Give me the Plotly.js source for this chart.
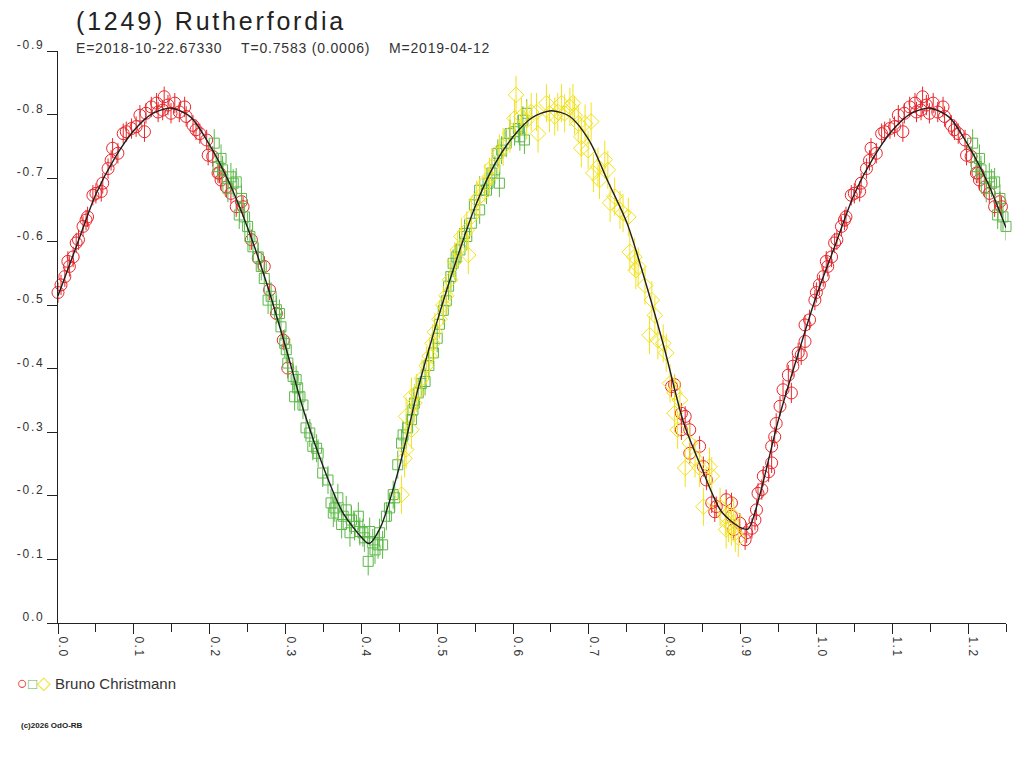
<!DOCTYPE html>
<html>
<head>
<meta charset="utf-8">
<script src="https://cdn.plot.ly/plotly-3.0.1.min.js"></script>
<style>
  body { margin: 0; background: #fff; }
  #plot { width: 1024px; height: 768px; }
</style>
</head>
<body>
<div id="plot"></div>
<script>

// Fit curve (phase, reduced mag)
var curve_phase = [0.000, 0.025, 0.050, 0.075, 0.100, 0.125, 0.150, 0.175, 0.200, 0.225,
  0.250, 0.275, 0.300, 0.325, 0.350, 0.375, 0.400, 0.410, 0.425, 0.450,
  0.475, 0.500, 0.525, 0.550, 0.575, 0.600, 0.625, 0.650, 0.675, 0.700,
  0.725, 0.750, 0.775, 0.800, 0.825, 0.850, 0.875, 0.900, 0.910, 0.925,
  0.950, 0.975, 1.000];
var curve_mag = [-0.515, -0.595, -0.675, -0.732, -0.775, -0.802, -0.810, -0.796, -0.752, -0.695,
  -0.622, -0.535, -0.435, -0.330, -0.245, -0.175, -0.135, -0.125, -0.150, -0.245,
  -0.370, -0.475, -0.570, -0.655, -0.720, -0.765, -0.795, -0.806, -0.797, -0.760,
  -0.695, -0.630, -0.535, -0.430, -0.315, -0.240, -0.175, -0.150, -0.148, -0.200,
  -0.320, -0.420, -0.515];

// Session 1 (red circles)
var red_phase = [0.000, 0.004, 0.009, 0.013, 0.015, 0.020, 0.024, 0.027, 0.033, 0.037,
  0.039, 0.046, 0.050, 0.057, 0.059, 0.066, 0.070, 0.072, 0.079, 0.086,
  0.090, 0.097, 0.103, 0.108, 0.114, 0.116, 0.123, 0.130, 0.132, 0.138,
  0.140, 0.145, 0.149, 0.154, 0.160, 0.167, 0.169, 0.178, 0.182, 0.187,
  0.196, 0.198, 0.204, 0.211, 0.213, 0.215, 0.222, 0.228, 0.235, 0.242,
  0.244, 0.255, 0.264, 0.272, 0.279, 0.288, 0.297, 0.303,
  0.809, 0.813, 0.822, 0.827, 0.822, 0.833, 0.846, 0.833, 0.851, 0.855,
  0.862, 0.868, 0.866, 0.881, 0.888, 0.888, 0.891, 0.899, 0.906, 0.908,
  0.915, 0.919, 0.921, 0.923, 0.928, 0.930, 0.937, 0.941, 0.941, 0.945,
  0.947, 0.952, 0.956, 0.963, 0.967, 0.969, 0.976, 0.980, 0.985, 0.985,
  0.991, 0.998];
var red_mag = [-0.520, -0.532, -0.545, -0.569, -0.561, -0.576, -0.598, -0.603, -0.624, -0.634,
  -0.639, -0.673, -0.676, -0.679, -0.692, -0.715, -0.728, -0.747, -0.739, -0.770,
  -0.773, -0.778, -0.781, -0.799, -0.773, -0.802, -0.812, -0.818, -0.804, -0.807,
  -0.828, -0.815, -0.802, -0.818, -0.804, -0.812, -0.797, -0.783, -0.776, -0.770,
  -0.760, -0.736, -0.734, -0.708, -0.708, -0.697, -0.686, -0.676, -0.655, -0.663,
  -0.655, -0.603, -0.574, -0.561, -0.524, -0.487, -0.445, -0.401,
  -0.372, -0.375, -0.330, -0.325, -0.304, -0.304, -0.278, -0.267, -0.246, -0.225,
  -0.189, -0.183, -0.175, -0.194, -0.189, -0.168, -0.147, -0.157, -0.131, -0.142,
  -0.149, -0.162, -0.178, -0.204, -0.210, -0.231, -0.238, -0.252, -0.278, -0.293,
  -0.314, -0.341, -0.367, -0.390, -0.362, -0.404, -0.425, -0.422, -0.443, -0.469,
  -0.477, -0.508];
var red_err = 0.016;

// Session 2 (green squares)
var green_phase = [0.206, 0.211, 0.215, 0.217, 0.224, 0.228, 0.231, 0.235, 0.239, 0.242,
  0.246, 0.250, 0.253, 0.257, 0.264, 0.268, 0.272, 0.277, 0.281, 0.288,
  0.292, 0.294, 0.299, 0.301, 0.303, 0.310, 0.312, 0.314, 0.316, 0.319,
  0.323, 0.327, 0.332, 0.336, 0.341, 0.343, 0.349, 0.356, 0.360, 0.363,
  0.365, 0.369, 0.374, 0.376, 0.380, 0.385, 0.387, 0.391, 0.396, 0.398,
  0.402, 0.404, 0.409, 0.411, 0.415, 0.418, 0.422, 0.424, 0.428, 0.433,
  0.437, 0.442, 0.444, 0.448, 0.453, 0.455, 0.461, 0.466, 0.468, 0.470,
  0.475, 0.479, 0.484, 0.489, 0.495, 0.500, 0.503, 0.508, 0.512, 0.515,
  0.518, 0.521, 0.525, 0.530, 0.536, 0.539, 0.545, 0.549, 0.556, 0.556,
  0.565, 0.567, 0.572, 0.576, 0.580, 0.582, 0.585, 0.591, 0.596, 0.602,
  0.607, 0.609, 0.613, 0.615, 0.618];
var green_mag = [-0.755, -0.718, -0.731, -0.713, -0.684, -0.702, -0.692, -0.694, -0.642, -0.668,
  -0.639, -0.624, -0.608, -0.592, -0.576, -0.561, -0.542, -0.508, -0.514, -0.493,
  -0.487, -0.466, -0.440, -0.430, -0.409, -0.388, -0.356, -0.383, -0.370, -0.356,
  -0.343, -0.307, -0.299, -0.278, -0.275, -0.267, -0.236, -0.225, -0.189, -0.173,
  -0.181, -0.197, -0.155, -0.168, -0.178, -0.142, -0.162, -0.152, -0.168, -0.144,
  -0.142, -0.134, -0.097, -0.144, -0.126, -0.115, -0.123, -0.142, -0.123, -0.168,
  -0.181, -0.202, -0.197, -0.249, -0.283, -0.296, -0.307, -0.320, -0.335, -0.346,
  -0.362, -0.377, -0.380, -0.405, -0.425, -0.448, -0.470, -0.492, -0.507, -0.530,
  -0.545, -0.566, -0.576, -0.587, -0.613, -0.608, -0.629, -0.658, -0.650, -0.681,
  -0.681, -0.692, -0.708, -0.713, -0.739, -0.692, -0.744, -0.755, -0.770, -0.773,
  -0.778, -0.765, -0.791, -0.760, -0.802];
var green_err = 0.022;

// Session 3 (yellow diamonds)
var yellow_phase = [0.453, 0.457, 0.459, 0.459, 0.466, 0.466, 0.470, 0.473, 0.480, 0.486,
  0.490, 0.494, 0.497, 0.503, 0.508, 0.512, 0.517, 0.523, 0.527, 0.532,
  0.539, 0.541, 0.545, 0.552, 0.556, 0.563, 0.569, 0.572, 0.582, 0.587,
  0.596, 0.602, 0.604, 0.611, 0.618, 0.624, 0.631, 0.633, 0.644, 0.648,
  0.655, 0.659, 0.664, 0.668, 0.675, 0.679, 0.681, 0.686, 0.690, 0.690,
  0.695, 0.699, 0.703, 0.706, 0.712, 0.714, 0.721, 0.725, 0.728, 0.734,
  0.741, 0.745, 0.752, 0.754, 0.760, 0.762, 0.765, 0.774, 0.780, 0.783,
  0.787, 0.791, 0.798, 0.802, 0.807, 0.813, 0.813, 0.817, 0.820, 0.827,
  0.833, 0.840, 0.846, 0.851, 0.859, 0.862, 0.873, 0.880, 0.881, 0.884,
  0.888, 0.891, 0.893, 0.897];
var yellow_mag = [-0.202, -0.259, -0.273, -0.325, -0.304, -0.356, -0.346, -0.362, -0.385, -0.405,
  -0.420, -0.440, -0.458, -0.478, -0.500, -0.515, -0.540, -0.569, -0.587, -0.608,
  -0.618, -0.579, -0.639, -0.666, -0.671, -0.692, -0.702, -0.718, -0.739, -0.749,
  -0.770, -0.794, -0.831, -0.797, -0.791, -0.804, -0.804, -0.770, -0.818, -0.802,
  -0.797, -0.804, -0.818, -0.802, -0.812, -0.818, -0.799, -0.786, -0.765, -0.747,
  -0.786, -0.744, -0.789, -0.708, -0.718, -0.697, -0.729, -0.713, -0.661, -0.671,
  -0.650, -0.645, -0.639, -0.584, -0.576, -0.555, -0.561, -0.531, -0.453, -0.508,
  -0.484, -0.445, -0.440, -0.425, -0.377, -0.362, -0.330, -0.304, -0.351, -0.244,
  -0.283, -0.259, -0.244, -0.183, -0.246, -0.231, -0.183, -0.168, -0.147, -0.157,
  -0.152, -0.168, -0.142, -0.134];
var yellow_err = 0.03;

var x_ticks = [0.0, 0.1, 0.2, 0.3, 0.4, 0.5, 0.6, 0.7, 0.8, 0.9, 1.0, 1.1, 1.2];
var y_ticks = [0.0, -0.1, -0.2, -0.3, -0.4, -0.5, -0.6, -0.7, -0.8, -0.9];

var title_text = "(1249) Rutherfordia";
var sub_text = "E=2018-10-22.67330    T=0.7583 (0.0006)    M=2019-04-12";
var observer = "Bruno Christmann";
var copyright = "(c)2026 OdO-RB";

var RED = "#e8262b";
var GREEN = "#5cb848";
var YELLOW = "#f2e21a";
var FONT = "Liberation Sans, Arial, sans-serif";

// Repeat the first quarter of the phase after 1.0
function wrap(ph, mg) {
  let x = ph.slice();
  let y = mg.slice();
  ph.forEach((p, i) => {
    if (p <= 0.25) {
      x.push(p + 1);
      y.push(mg[i]);
    }
  });
  return {x: x, y: y};
}

function points(ph, mg, err, col, symbol, size) {
  let w = wrap(ph, mg);
  return {
    x: w.x,
    y: w.y,
    type: 'scatter',
    mode: 'markers',
    showlegend: false,
    cliponaxis: false,
    marker: {
      symbol: symbol,
      size: size,
      color: col,
      line: {color: col, width: 1}
    },
    error_y: {
      type: 'constant',
      value: err,
      width: 0,
      thickness: 1,
      color: col
    }
  };
}

let cw = wrap(curve_phase.slice(0, curve_phase.length - 1), curve_mag.slice(0, curve_mag.length - 1));
// order the curve by phase
let cidx = cw.x.map((v, i) => i).sort((a, b) => cw.x[a] - cw.x[b]);

var data = [
  points(red_phase, red_mag, red_err, RED, 'circle-open', 12),
  points(green_phase, green_mag, green_err, GREEN, 'square-open', 10),
  points(yellow_phase, yellow_mag, yellow_err, YELLOW, 'diamond-open', 12),
  {
    x: cidx.map(i => cw.x[i]),
    y: cidx.map(i => cw.y[i]),
    type: 'scatter',
    mode: 'lines',
    showlegend: false,
    line: {color: '#1e1e1e', width: 1.4, shape: 'spline', smoothing: 0.8}
  }
];

// pixel helpers for the page furniture
var L = 58, R = 1006, T = 51, B = 623;
function px(x) { return (x - L) / (R - L); }
function py(y) { return (B - y) / (B - T); }

var nb = s => s.replace(/ /g, "\u00a0");
var spaced = (s, ls) => '<span style="letter-spacing:' + ls + 'px">' + nb(s) + '</span>';

var layout = {
  width: 1024,
  height: 768,
  paper_bgcolor: '#ffffff',
  plot_bgcolor: '#ffffff',
  margin: {l: L, r: 1024 - R, t: T, b: 768 - B, pad: 0},
  font: {family: FONT, color: '#333333'},
  xaxis: {
    range: [0, 1.25],
    showline: true,
    linecolor: '#222222',
    linewidth: 1,
    showgrid: false,
    zeroline: false,
    ticks: 'outside',
    ticklen: 10,
    tickcolor: '#222222',
    tickmode: 'array',
    tickvals: x_ticks,
    ticktext: x_ticks.map(v => spaced(v.toFixed(1), 1.5)),
    tickangle: 90,
    ticklabelshift: 5,
    tickfont: {size: 12, color: '#333333', family: FONT},
    minor: {dtick: 0.05, tick0: 0, ticks: 'outside', ticklen: 8, tickcolor: '#222222', showgrid: false}
  },
  yaxis: {
    range: [0, -0.9],
    showline: true,
    linecolor: '#222222',
    linewidth: 1,
    showgrid: false,
    zeroline: false,
    ticks: 'outside',
    ticklen: 10,
    tickcolor: '#222222',
    tickmode: 'array',
    tickvals: y_ticks,
    ticktext: y_ticks.map(v => spaced(v.toFixed(1), 1.8)),
    ticklabelshift: 6,
    tickfont: {size: 12, color: '#333333', family: FONT}
  },
  annotations: [
    {
      xref: 'paper', yref: 'paper', x: px(74), y: py(21),
      xanchor: 'left', yanchor: 'middle', showarrow: false,
      text: spaced(title_text, 2.8),
      font: {size: 25, color: '#222222', family: FONT}
    },
    {
      xref: 'paper', yref: 'paper', x: px(74), y: py(48),
      xanchor: 'left', yanchor: 'middle', showarrow: false,
      text: spaced(sub_text, 0.8),
      font: {size: 14, color: '#333333', family: FONT}
    },
    {
      xref: 'paper', yref: 'paper', x: px(15), y: py(683),
      xanchor: 'left', yanchor: 'middle', showarrow: false,
      text: '<span style="font-size:18px;color:' + RED + '">○</span><span style="font-size:15px;color:' + GREEN + '">□</span><span style="font-size:18px;color:' + YELLOW + '">◇</span>' + nb(' ' + observer),
      font: {size: 15, color: '#333333', family: FONT}
    },
    {
      xref: 'paper', yref: 'paper', x: px(19), y: py(725),
      xanchor: 'left', yanchor: 'middle', showarrow: false,
      text: copyright,
      font: {size: 8, color: '#222222', family: FONT, weight: 'bold'}
    }
  ]
};

Plotly.newPlot('plot', data, layout, {displayModeBar: false, staticPlot: true});

</script>
</body>
</html>
